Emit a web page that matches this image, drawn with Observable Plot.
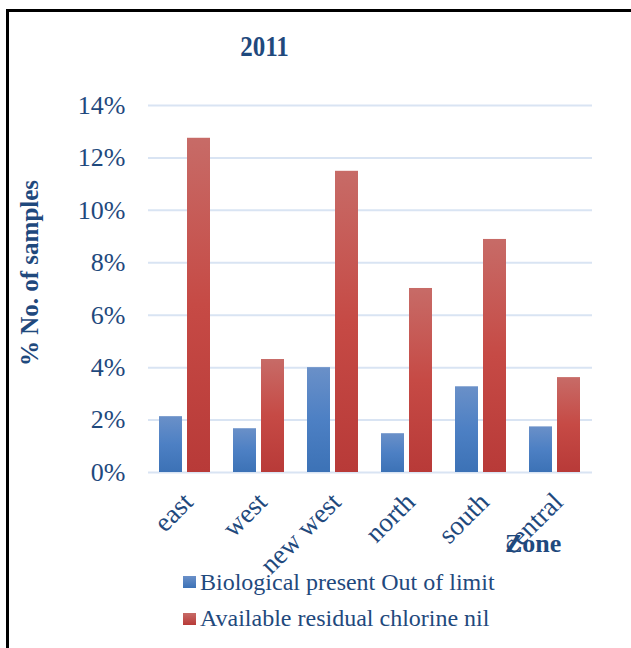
<!DOCTYPE html>
<html>
<head>
<meta charset="utf-8">
<script src="https://cdn.jsdelivr.net/npm/d3@7"></script>
<script src="https://cdn.jsdelivr.net/npm/@observablehq/plot@0.6"></script>
<style>
  html, body { margin: 0; padding: 0; background: #fff; }
  #wrap { position: relative; width: 631px; height: 648px; overflow: hidden; font-family: "Liberation Serif", "Times New Roman", serif; color: #1F497D; }
  #frame { position: absolute; left: 6px; top: 9px; width: 700px; height: 700px; border-left: 3px solid #000; border-top: 3px solid #000; }
  #chart { position: absolute; left: 0; top: 0; }
  .abs { position: absolute; white-space: nowrap; line-height: 1; }
  #title { left: 0; width: 529px; top: 35px; text-align: center; font-weight: bold; font-size: 25px; transform: scaleY(1.2); transform-origin: 50% 80%; }
  #ylabel { left: 29px; top: 273px; font-weight: bold; font-size: 25px; transform: translate(-50%, -50%) rotate(-90deg); }
  #zone { left: 505px; top: 531px; font-weight: bold; font-size: 26px; }
  .sw { position: absolute; width: 13px; height: 12px; }
  .lt { font-size: 24px; }
</style>
</head>
<body>
<div id="wrap">
  <div id="frame"></div>
  <div id="title" class="abs"></div>
  <div id="ylabel" class="abs"></div>
  <div id="zone" class="abs"></div>
  <div id="chart"></div>
  <div id="sw0" class="sw" style="left:183px;top:576px;background:linear-gradient(#6A90C8,#3C72B6);"></div>
  <div id="lt0" class="abs lt" style="left:200px;top:570px;"></div>
  <div id="sw1" class="sw" style="left:183px;top:613px;background:linear-gradient(#C76B67,#B83A38);"></div>
  <div id="lt1" class="abs lt" style="left:200px;top:606px;"></div>
</div>
<script>
const title = "2011";
const yLabel = "% No. of samples";
const xLabel = "Zone";
const zones = ["east", "west", "new west", "north", "south", "central"];
const series = ["Biological present Out of limit", "Available residual chlorine nil"];
const biological = [2.13, 1.67, 4.0, 1.48, 3.27, 1.74];
const chlorine = [12.75, 4.31, 11.49, 7.02, 8.89, 3.62];
const yTicks = [0, 2, 4, 6, 8, 10, 12, 14];

document.getElementById("title").textContent = title;
document.getElementById("ylabel").textContent = yLabel;
document.getElementById("zone").textContent = xLabel;
document.getElementById("lt0").textContent = series[0];
document.getElementById("lt1").textContent = series[1];

const rows = zones.flatMap((z, i) => [
  {zone: z, series: series[0], value: biological[i]},
  {zone: z, series: series[1], value: chlorine[i]}
]);

const chart = Plot.plot({
  width: 631,
  height: 648,
  marginLeft: 146,
  marginRight: 38,
  marginTop: 105,
  marginBottom: 176,
  style: {fontFamily: "Liberation Serif, Times New Roman, serif", color: "#1F497D", background: "transparent"},
  fx: {domain: zones, padding: 0, label: null},
  x: {domain: series, paddingInner: 0.172, paddingOuter: 0.37, axis: null},
  y: {domain: [0, 14], label: null},
  marks: [
    Plot.ruleY(yTicks, {stroke: "#D9E4F3", strokeWidth: 2}),
    Plot.barY(rows.filter(d => d.series === series[0]), {fx: "zone", x: "series", y: "value", fill: "url(#gradBlue)"}),
    Plot.barY(rows.filter(d => d.series === series[1]), {fx: "zone", x: "series", y: "value", fill: "url(#gradRed)"}),
    Plot.axisY({ticks: yTicks, tickSize: 0, tickPadding: 23, fontSize: 26, tickFormat: d => d + "%", label: null}),
    Plot.axisFx({anchor: "bottom", tickRotate: -45, tickSize: 0, tickPadding: 25, dx: 3, fontSize: 27, label: null})
  ]
});

const ns = "http://www.w3.org/2000/svg";
const defs = document.createElementNS(ns, "defs");
function grad(id, c0, c1, c2) {
  const g = document.createElementNS(ns, "linearGradient");
  g.setAttribute("id", id);
  g.setAttribute("x1", "0"); g.setAttribute("y1", "0");
  g.setAttribute("x2", "0"); g.setAttribute("y2", "1");
  [[0, c0], [0.5, c1], [1, c2]].forEach(([o, c]) => {
    const s = document.createElementNS(ns, "stop");
    s.setAttribute("offset", o);
    s.setAttribute("stop-color", c);
    g.appendChild(s);
  });
  defs.appendChild(g);
}
grad("gradBlue", "#6A90C8", "#4D80C4", "#3C72B6");
grad("gradRed", "#C76B67", "#C64A45", "#B83A38");
chart.insertBefore(defs, chart.firstChild);
document.getElementById("chart").appendChild(chart);
</script>
</body>
</html>
